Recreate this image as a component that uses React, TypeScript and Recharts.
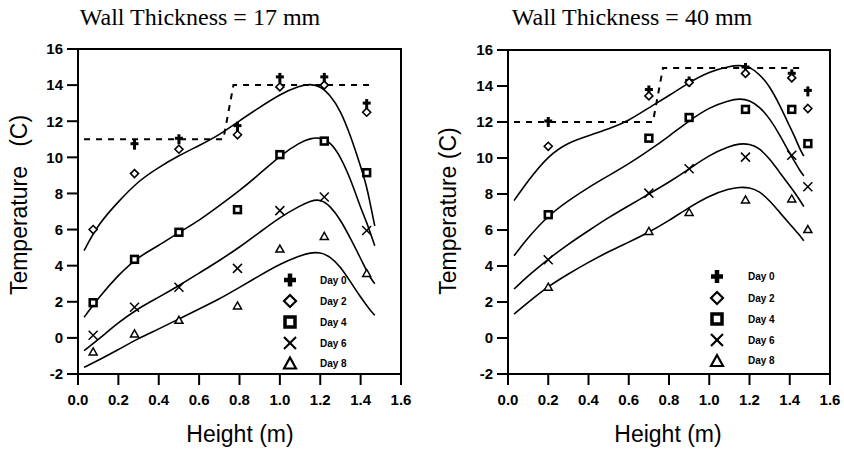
import React from "react";
import {
  ComposedChart,
  Line,
  Scatter,
  XAxis,
  YAxis,
  ReferenceArea,
} from "recharts";

// measured heights (m) and temperatures (C), 17 mm wall
const HEIGHT_17 = [0.075, 0.28, 0.5, 0.79, 1.0, 1.22, 1.43];
const DAY0_17 = [null, 10.7, 11.0, 11.7, 14.4, 14.4, 12.95];
const DAY2_17 = [6.0, 9.1, 10.45, 11.25, 13.9, 14.0, 12.5];
const DAY4_17 = [1.95, 4.35, 5.85, 7.1, 10.15, 10.9, 9.15];
const DAY6_17 = [0.15, 1.7, 2.8, 3.85, 7.05, 7.8, 5.95];
const DAY8_17 = [-0.75, 0.25, 1.0, 1.8, 4.95, 5.65, 3.6];

// 40 mm wall
const HEIGHT_40 = [0.2, 0.7, 0.9, 1.18, 1.41, 1.49];
const DAY0_40 = [12.0, 13.75, 14.25, 15.0, 14.65, 13.7];
const DAY2_40 = [10.65, 13.45, 14.2, 14.7, 14.45, 12.75];
const DAY4_40 = [6.85, 11.1, 12.25, 12.7, 12.7, 10.8];
const DAY6_40 = [4.35, 8.05, 9.4, 10.05, 10.15, 8.4];
const DAY8_40 = [2.85, 5.95, 7.0, 7.7, 7.75, 6.05];

// fitted curves, sampled along the height
const FIT_X = [0.03, 0.1, 0.2, 0.3, 0.4, 0.5, 0.6, 0.7, 0.8, 0.9, 1.0, 1.1, 1.15, 1.2, 1.25, 1.3, 1.35, 1.4, 1.43, 1.45, 1.47];
const FIT_A_17 = [4.83, 6.3, 7.55, 8.7, 9.45, 10.1, 10.65, 11.24, 12.03, 12.77, 13.5, 13.97, 14.06, 13.95, 13.43, 12.6, 11.2, 9.5, 8.4, 7.3, 6.2];
const FIT_B_17 = [1.14, 2.2, 3.5, 4.5, 5.11, 5.85, 6.49, 7.32, 8.15, 9.08, 10.09, 10.83, 11.05, 11.1, 10.85, 10.05, 8.8, 7.2, 6.4, 5.75, 5.1];
const FIT_C_17 = [-0.71, -0.1, 0.85, 1.65, 2.25, 2.89, 3.59, 4.28, 5.02, 5.85, 6.68, 7.32, 7.58, 7.7, 7.3, 6.55, 5.5, 4.4, 3.7, 3.3, 3.0];
const FIT_D_17 = [-1.63, -1.25, -0.65, -0.02, 0.49, 1.05, 1.6, 2.15, 2.8, 3.45, 4.09, 4.55, 4.72, 4.74, 4.5, 3.95, 3.1, 2.25, 1.8, 1.5, 1.25];
const FIT_A_40 = [7.63, 8.74, 10.13, 10.87, 11.24, 11.61, 12.07, 12.8, 13.46, 14.2, 14.8, 15.1, 15.15, 15.08, 14.65, 14.0, 12.95, 11.75, 11.05, 10.5, 10.1];
const FIT_B_40 = [4.57, 5.59, 6.8, 7.63, 8.37, 9.02, 9.67, 10.41, 11.21, 12.07, 12.82, 13.2, 13.3, 13.22, 12.85, 12.2, 11.3, 10.25, 9.7, 9.3, 9.0];
const FIT_C_40 = [2.72, 3.46, 4.39, 5.22, 5.96, 6.7, 7.35, 8.0, 8.65, 9.39, 10.17, 10.65, 10.8, 10.78, 10.55, 9.95, 9.2, 8.45, 8.0, 7.65, 7.3];
const FIT_D_40 = [1.33, 1.98, 2.87, 3.56, 4.21, 4.8, 5.32, 5.87, 6.52, 7.26, 7.91, 8.3, 8.38, 8.37, 8.15, 7.63, 6.98, 6.33, 5.95, 5.7, 5.4];

// dashed air temperature step
const STEP_X = [0.03, 0.72, 0.77, 1.47];
const STEP_17 = [11, 11, 14, 14];
const STEP_40 = [12, 12, 15, 15];

const X_TICKS = [0, 0.2, 0.4, 0.6, 0.8, 1.0, 1.2, 1.4, 1.6];
const Y_TICKS = [-2, 0, 2, 4, 6, 8, 10, 12, 14, 16];
const DAY_LABELS = ["Day 0", "Day 2", "Day 4", "Day 6", "Day 8"];
const KINDS = ["plus", "diamond", "square", "cross", "triangle"];

const SANS = "Arial, 'Liberation Sans', Helvetica, sans-serif";
const SERIF = "'Times New Roman', 'Liberation Serif', Times, serif";

const pairs = (xs: number[], ys: (number | null)[]) =>
  xs.map((x, i) => ({ x, y: ys[i] })).filter((p) => p.y !== null);

function Marker({ kind, cx, cy, big }: { kind: string; cx: number; cy: number; big?: boolean }) {
  const r = big ? 6 : 4;
  if (kind === "plus") {
    const t = big ? 4.5 : 3;
    const h = big ? 6.5 : 5;
    return (
      <g fill="#000">
        <rect x={cx - t / 2} y={cy - h} width={t} height={h * 2} />
        <rect x={cx - r} y={cy - t / 2 - (big ? 0 : 1)} width={r * 2} height={t} />
      </g>
    );
  }
  if (kind === "diamond") {
    return (
      <polygon
        points={`${cx},${cy - r} ${cx + r},${cy} ${cx},${cy + r} ${cx - r},${cy}`}
        fill="#fff"
        stroke="#000"
        strokeWidth={big ? 2.2 : 1.6}
      />
    );
  }
  if (kind === "square") {
    const s = big ? 5 : 3.4;
    return (
      <rect x={cx - s} y={cy - s} width={s * 2} height={s * 2} fill="#fff" stroke="#000" strokeWidth={big ? 3.5 : 2.6} />
    );
  }
  if (kind === "cross") {
    const s = big ? 6 : 4.5;
    return (
      <g stroke="#000" strokeWidth={big ? 2.2 : 1.5}>
        <line x1={cx - s} y1={cy - s} x2={cx + s} y2={cy + s} />
        <line x1={cx - s} y1={cy + s} x2={cx + s} y2={cy - s} />
      </g>
    );
  }
  const w = big ? 6 : 4;
  const h = big ? 5.5 : 3.5;
  return (
    <polygon
      points={`${cx},${cy - h} ${cx + w},${cy + h} ${cx - w},${cy + h}`}
      fill="#fff"
      stroke="#000"
      strokeWidth={big ? 2.2 : 1.5}
    />
  );
}

type PanelProps = {
  left: number;
  yAxisWidth: number;
  marginTop: number;
  marginRight: number;
  heights: number[];
  days: (number | null)[][];
  fits: number[][];
  step: number[];
};

function Panel({ left, yAxisWidth, marginTop, marginRight, heights, days, fits, step }: PanelProps) {
  const tickStyle = { fill: "#000", fontSize: 15, fontWeight: "bold", fontFamily: SANS };
  return (
    <div style={{ position: "absolute", left, top: 0 }}>
      <ComposedChart
        width={422}
        height={453}
        margin={{ top: marginTop, right: marginRight, bottom: 0, left: 0 }}
      >
        <XAxis
          type="number"
          dataKey="x"
          domain={[0, 1.6]}
          ticks={X_TICKS}
          tickFormatter={(v: number) => v.toFixed(1)}
          height={79}
          tickSize={11}
          tickMargin={9}
          axisLine={{ stroke: "#000", strokeWidth: 2 }}
          tickLine={{ stroke: "#000", strokeWidth: 2 }}
          tick={tickStyle}
          allowDataOverflow
        />
        <YAxis
          type="number"
          dataKey="y"
          domain={[-2, 16]}
          ticks={Y_TICKS}
          width={yAxisWidth}
          tickSize={11}
          tickMargin={4}
          axisLine={{ stroke: "#000", strokeWidth: 2 }}
          tickLine={{ stroke: "#000", strokeWidth: 2 }}
          tick={tickStyle}
          allowDataOverflow
        />
        <ReferenceArea x1={0} x2={1.6} y1={-2} y2={16} fill="none" stroke="#000" strokeWidth={2} />
        <Line
          data={pairs(STEP_X, step)}
          dataKey="y"
          type="linear"
          stroke="#000"
          strokeWidth={2}
          strokeDasharray="6 6"
          dot={false}
          isAnimationActive={false}
        />
        {fits.map((f, i) => (
          <Line
            key={`fit-${i}`}
            data={pairs(FIT_X, f)}
            dataKey="y"
            type="basis"
            stroke="#000"
            strokeWidth={1.6}
            dot={false}
            isAnimationActive={false}
          />
        ))}
        {days.map((d, i) => (
          <Scatter
            key={`day-${i}`}
            data={pairs(heights, d)}
            dataKey="y"
            isAnimationActive={false}
            shape={(p: any) => <Marker kind={KINDS[i]} cx={p.cx} cy={p.cy} />}
          />
        ))}
      </ComposedChart>
    </div>
  );
}

function Legend({ x, textX, rows }: { x: number; textX: number; rows: number[] }) {
  return (
    <g>
      {DAY_LABELS.map((label, i) => (
        <g key={label}>
          <Marker kind={KINDS[i]} cx={x} cy={rows[i]} big />
          <text x={textX} y={rows[i] + 3.5} fontSize={10} fontWeight="bold" fontFamily={SANS} fill="#000">
            {label}
          </text>
        </g>
      ))}
    </g>
  );
}

export default function App() {
  return (
    <div style={{ position: "absolute", left: 0, top: 0, width: 844, height: 453, background: "#fff" }}>
      <Panel
        left={0}
        yAxisWidth={78}
        marginTop={49}
        marginRight={21}
        heights={HEIGHT_17}
        days={[DAY0_17, DAY2_17, DAY4_17, DAY6_17, DAY8_17]}
        fits={[FIT_A_17, FIT_B_17, FIT_C_17, FIT_D_17]}
        step={STEP_17}
      />
      <Panel
        left={422}
        yAxisWidth={86}
        marginTop={50}
        marginRight={14}
        heights={HEIGHT_40}
        days={[DAY0_40, DAY2_40, DAY4_40, DAY6_40, DAY8_40]}
        fits={[FIT_A_40, FIT_B_40, FIT_C_40, FIT_D_40]}
        step={STEP_40}
      />
      <svg
        width={844}
        height={453}
        style={{ position: "absolute", left: 0, top: 0, pointerEvents: "none" }}
      >
        <text x={200} y={25} textAnchor="middle" fontSize={24} fontFamily={SERIF} fill="#000">
          Wall Thickness = 17 mm
        </text>
        <text x={632} y={25} textAnchor="middle" fontSize={24} fontFamily={SERIF} fill="#000">
          Wall Thickness = 40 mm
        </text>
        <text x={240} y={442} textAnchor="middle" fontSize={23} fontFamily={SANS} fill="#000">
          Height (m)
        </text>
        <text x={668} y={442} textAnchor="middle" fontSize={23} fontFamily={SANS} fill="#000">
          Height (m)
        </text>
        <text
          x={27}
          y={205}
          transform="rotate(-90 27 205)"
          textAnchor="middle"
          fontSize={23}
          fontFamily={SANS}
          fill="#000"
          style={{ whiteSpace: "pre" }}
        >
          {"Temperature   (C)"}
        </text>
        <text
          x={456}
          y={211}
          transform="rotate(-90 456 211)"
          textAnchor="middle"
          fontSize={23}
          fontFamily={SANS}
          fill="#000"
        >
          Temperature (C)
        </text>
        <Legend x={290} textX={320} rows={[280, 301, 322, 343, 363]} />
        <Legend x={717} textX={748} rows={[276.5, 298, 319, 340, 360.5]} />
      </svg>
    </div>
  );
}
